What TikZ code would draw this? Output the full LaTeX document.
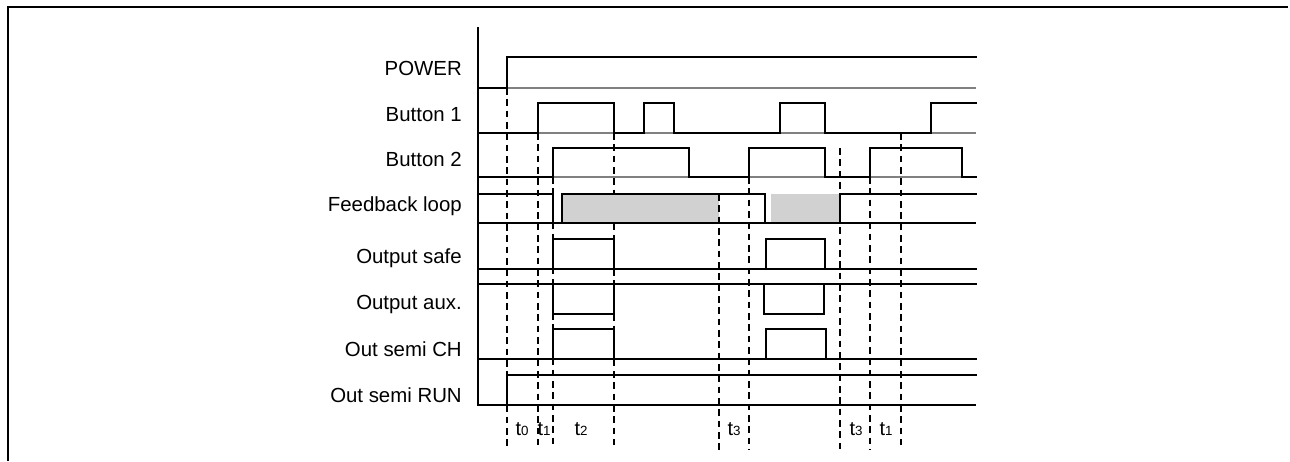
\documentclass[tikz,border=0pt]{standalone}
\usepackage{fontspec}
\setmainfont{Liberation Sans}
\begin{document}
\begin{tikzpicture}[x=0.75pt,y=-0.75pt,
  sig/.style={line width=2.1pt, line join=miter, line cap=rect},
  graybase/.style={line width=0.9pt, draw=black!50},
  thinbase/.style={line width=0.8pt, draw=black},
  guide/.style={line width=0.9pt, dash pattern=on 5pt off 3.5pt},
  lbl/.style={anchor=base east, font=\fontsize{15.3}{18}\selectfont, inner sep=0pt},
  tlbl/.style={anchor=base, font=\fontsize{15}{17}\selectfont, inner sep=0pt},
  fbfill/.style={fill=black!18, draw=none}]
\useasboundingbox (0,0) rectangle (1290,461);
% frame
\draw[line width=1.8pt] (8,461) -- (8,7) -- (1288,7);
% axis
\draw[line width=0.8pt] (478,27) -- (478,405);
% guides
\draw[guide] (507,88) -- (507,450);
\draw[guide] (538,133) -- (538,445);
\draw[guide] (553,177) -- (553,445);
\draw[guide] (614,133) -- (614,445);
\draw[guide] (719,194) -- (719,450);
\draw[guide] (749,177) -- (749,450);
\draw[guide] (840,148) -- (840,450);
\draw[guide] (870,177) -- (870,450);
\draw[guide] (901,133) -- (901,445);
% labels
\node[lbl] (lpower) at (462,75.5) {POWER};
\node[lbl] (lb1) at (462,121) {Button 1};
\node[lbl] (lb2) at (462,166.5) {Button 2};
\node[lbl] (lfb) at (462,211.5) {Feedback loop};
\node[lbl] (lsafe) at (462,263) {Output safe};
\node[lbl] (laux) at (462,309) {Output aux.};
\node[lbl] (lch) at (462,356) {Out semi CH};
\node[lbl] (lrun) at (462,402) {Out semi RUN};
% POWER
\draw[graybase] (507,88) -- (976,88);
\draw[sig] (478,88) -- (507,88) -- (507,57) -- (976,57);
% Button 1
\draw[graybase] (478,133) -- (976,133);
\draw[sig] (478,133) -- (538,133) -- (538,103) -- (614,103) -- (614,133) -- (644,133) -- (644,103) -- (674,103) -- (674,133) -- (780,133) -- (780,103) -- (825,103) -- (825,133) -- (931,133) -- (931,103) -- (976,103);
% Button 2
\draw[graybase] (478,177) -- (976,177);
\draw[sig] (478,177) -- (553,177) -- (553,148) -- (689,148) -- (689,177) -- (749,177) -- (749,148) -- (825,148) -- (825,177) -- (870,177) -- (870,148) -- (962,148) -- (962,177) -- (976,177);
% Feedback loop
\fill[fbfill] (562,194) rectangle (719,223);
\fill[fbfill] (771,194) rectangle (840,223);
\draw[guide] (719,194) -- (719,223);
\draw[thinbase] (478,223) -- (976,223);
\draw[sig] (478,194) -- (553,194) -- (553,223) -- (562,223) -- (562,194) -- (765,194) -- (765,223) -- (840,223) -- (840,194) -- (976,194);
% Output safe
\draw[sig] (478,269) -- (976,269);
\draw[sig] (553,269) -- (553,239) -- (614,239) -- (614,269);
\draw[sig] (766,269) -- (766,239) -- (825,239) -- (825,269);
% Output aux.
\draw[sig] (478,284) -- (976,284);
\draw[sig] (553,284) -- (553,314) -- (614,314) -- (614,284);
\draw[sig] (764,284) -- (764,314) -- (824,314) -- (824,284);
% Out semi CH
\draw[sig] (478,359) -- (976,359);
\draw[sig] (553,359) -- (553,329) -- (614,329) -- (614,359);
\draw[sig] (766,359) -- (766,329) -- (826,329) -- (826,359);
% Out semi RUN
\draw[thinbase] (478,405) -- (976,405);
\draw[sig] (478,405) -- (507,405) -- (507,375) -- (976,375);
% time labels
\node[tlbl] (t0) at (522,435) {t{\fontsize{10}{11}\selectfont 0}};
\node[tlbl] (t1a) at (544,435) {t{\fontsize{10}{11}\selectfont 1}};
\node[tlbl] (t2) at (581,435) {t{\fontsize{10}{11}\selectfont 2}};
\node[tlbl] (t3a) at (734,435) {t{\fontsize{10}{11}\selectfont 3}};
\node[tlbl] (t3b) at (856,435) {t{\fontsize{10}{11}\selectfont 3}};
\node[tlbl] (t1b) at (886,435) {t{\fontsize{10}{11}\selectfont 1}};
\end{tikzpicture}
\end{document}
